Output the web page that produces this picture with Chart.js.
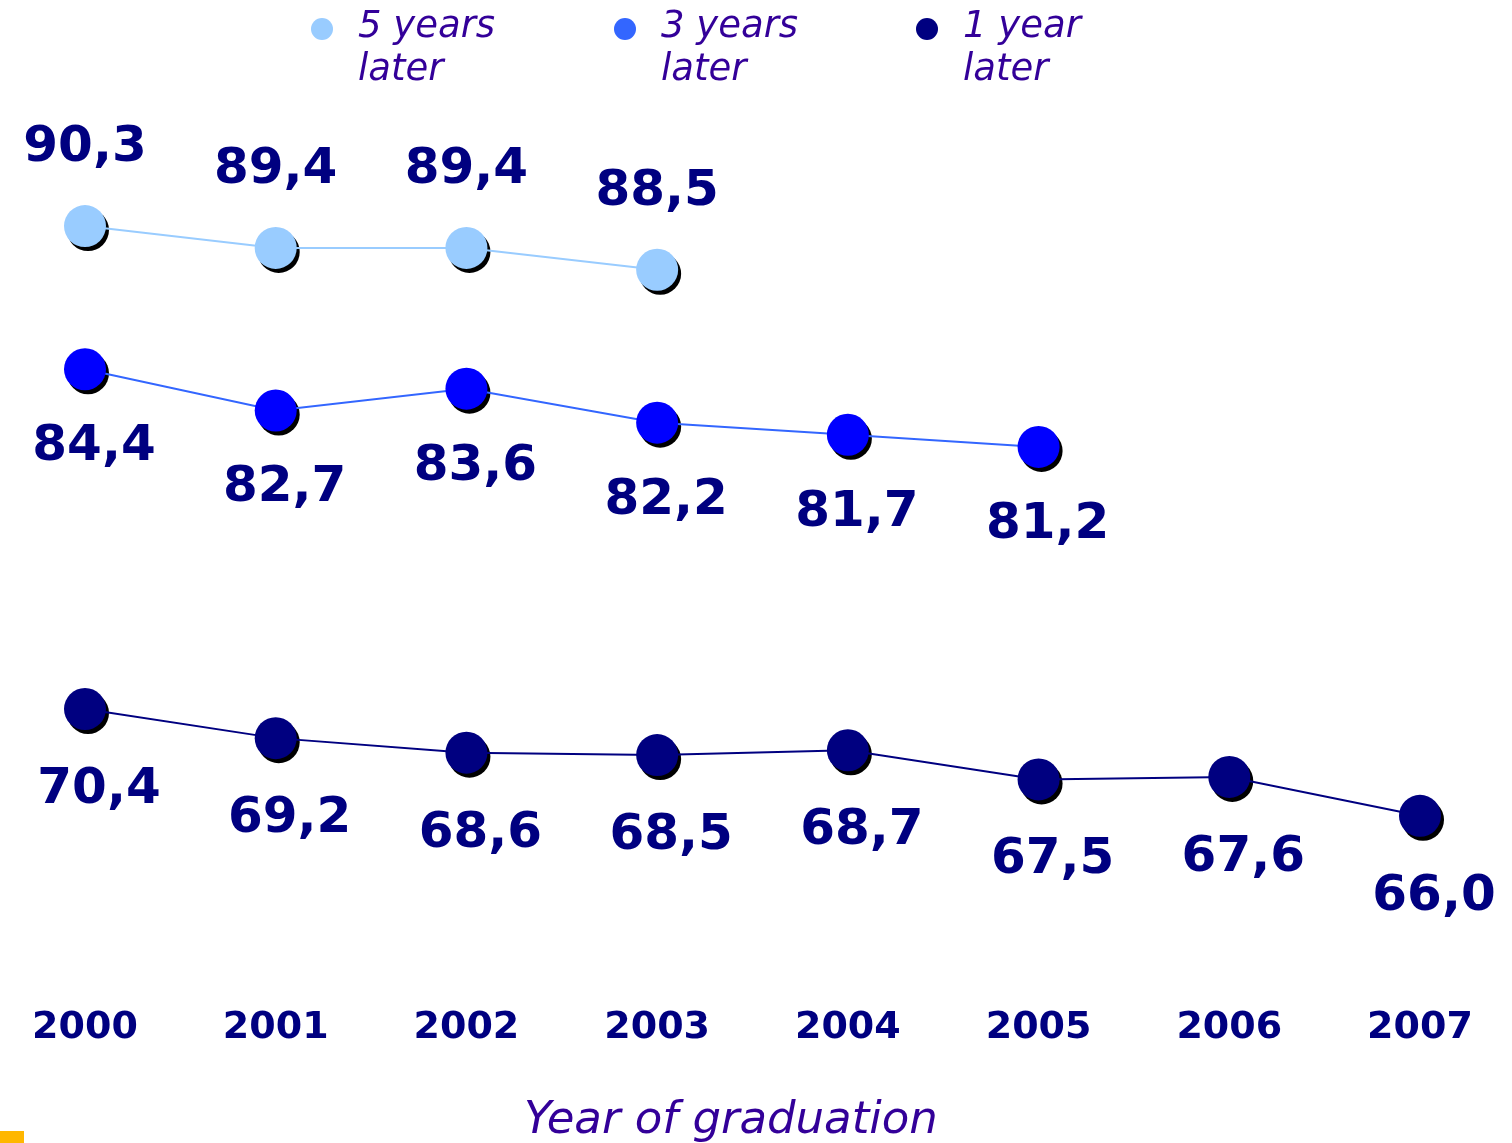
<!DOCTYPE html>
<html>
<head>
<meta charset="utf-8">
<script src="https://cdn.jsdelivr.net/npm/chart.js@4.4.1/dist/chart.umd.min.js"></script>
<style>
  html, body { margin: 0; padding: 0; background: #fff; }
  #wrap { position: relative; width: 1512px; height: 1143px; overflow: hidden; }
  #chart { position: absolute; left: 0; top: 0; }
  .legend { position: absolute; top: 3px; font-family: 'DejaVu Sans', Verdana, sans-serif; font-style: italic; font-size: 37px; line-height: 43px; color: #330099; white-space: nowrap; }
  .legend .dot { position: absolute; left: -47px; top: 15px; width: 22px; height: 22px; border-radius: 50%; }
  .axis-title { position: absolute; left: 431px; width: 600px; top: 1093px; text-align: center; font-family: 'DejaVu Sans', Verdana, sans-serif; font-style: italic; font-size: 45px; line-height: 50px; color: #330099; }
  .mark { position: absolute; left: 0; top: 1131px; width: 24px; height: 12px; background: #ffb700; }
</style>
</head>
<body>
<div id="wrap">
  <canvas id="chart" width="1512" height="1143"></canvas>
  <div class="legend" style="left:358px"><span class="dot" style="background:#99ccff"></span>5 years<br>later</div>
  <div class="legend" style="left:661px"><span class="dot" style="background:#3366ff"></span>3 years<br>later</div>
  <div class="legend" style="left:963px"><span class="dot" style="background:#000080"></span>1 year<br>later</div>
  <div class="axis-title">Year of graduation</div>
  <div class="mark"></div>
</div>
<script>
  const years = ['2000', '2001', '2002', '2003', '2004', '2005', '2006', '2007'];
  const fiveYearsLater = [90.3, 89.4, 89.4, 88.5, null, null, null, null];
  const threeYearsLater = [84.4, 82.7, 83.6, 82.2, 81.7, 81.2, null, null];
  const oneYearLater = [70.4, 69.2, 68.6, 68.5, 68.7, 67.5, 67.6, 66.0];

  const FONT = "'DejaVu Sans', Verdana, sans-serif";
  const NAVY = '#000080';

  // black drop shadow under each marker
  const shadowPlugin = {
    id: 'markerShadow',
    beforeDatasetDraw(chart, args) {
      const ctx = chart.ctx;
      ctx.save();
      ctx.fillStyle = '#000';
      args.meta.data.forEach((pt) => {
        if (pt.skip) return;
        ctx.beginPath();
        ctx.arc(pt.x + 3, pt.y + 4, 21, 0, Math.PI * 2);
        ctx.fill();
      });
      ctx.restore();
    }
  };

  // value labels, comma decimal
  const valueLabels = {
    id: 'valueLabels',
    afterDatasetsDraw(chart) {
      const ctx = chart.ctx;
      ctx.save();
      ctx.font = 'bold 50px ' + FONT;
      ctx.fillStyle = NAVY;
      ctx.textAlign = 'center';
      ctx.textBaseline = 'middle';
      chart.data.datasets.forEach((ds, i) => {
        const meta = chart.getDatasetMeta(i);
        meta.data.forEach((pt, j) => {
          const v = ds.data[j];
          if (v == null) return;
          ctx.fillText(v.toFixed(1).replace('.', ','), pt.x + ds.labelDx, pt.y + ds.labelDy);
        });
      });
      ctx.restore();
    }
  };

  function series(label, data, pointColor, lineColor, dx, dy) {
    return {
      label,
      data,
      borderColor: lineColor,
      borderWidth: 2,
      backgroundColor: pointColor,
      pointBackgroundColor: pointColor,
      pointBorderWidth: 0,
      pointRadius: 21,
      pointHoverRadius: 21,
      spanGaps: false,
      labelDx: dx,
      labelDy: dy
    };
  }

  new Chart(document.getElementById('chart').getContext('2d'), {
    type: 'line',
    data: {
      labels: years,
      datasets: [
        series('5 years later', fiveYearsLater, '#99ccff', '#99ccff', 0, -78),
        series('3 years later', threeYearsLater, '#0000ff', '#3366ff', 9, 78),
        series('1 year later', oneYearLater, NAVY, NAVY, 14, 81)
      ]
    },
    options: {
      responsive: false,
      animation: false,
      events: [],
      layout: { padding: { left: 85, right: 92, top: 112, bottom: 72 } },
      plugins: { legend: { display: false }, tooltip: { enabled: false } },
      scales: {
        x: {
          offset: false,
          // invisible tick marks only push the labels down
          grid: { display: true, drawOnChartArea: false, drawTicks: true, tickLength: 24, color: 'rgba(0,0,0,0)' },
          border: { display: false },
          ticks: { color: NAVY, padding: 20, font: { family: FONT, size: 38, weight: 'bold' } }
        },
        y: { display: false, min: 60, max: 95 }
      }
    },
    plugins: [shadowPlugin, valueLabels]
  });
</script>
</body>
</html>
